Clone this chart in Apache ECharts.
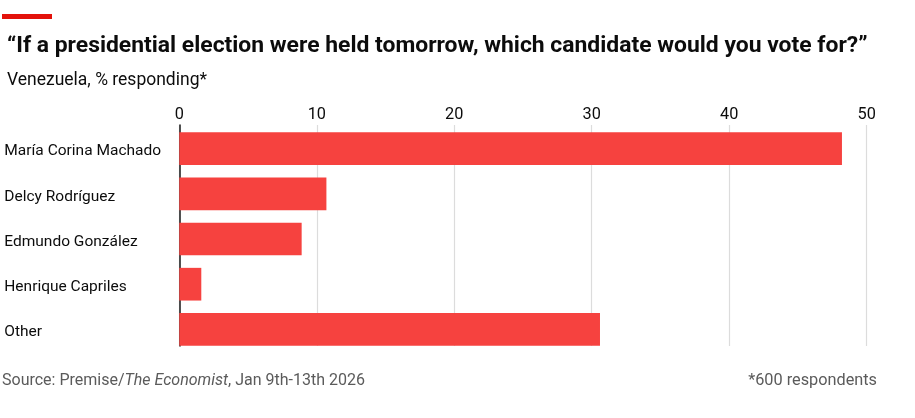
<!DOCTYPE html>
<html><head><meta charset="utf-8">
<script src="https://cdn.jsdelivr.net/npm/echarts@6/dist/echarts.min.js"></script>
<style>html,body{margin:0;padding:0;background:#fff}#c{width:915px;height:418px}</style>
</head><body><div id="c"></div>
<script>
const categories = ["María Corina Machado", "Delcy Rodríguez", "Edmundo González", "Henrique Capriles", "Other"];
const values = [48.2, 10.7, 8.9, 1.6, 30.6];
const xTicks = [0, 10, 20, 30, 40, 50];

const chart = echarts.init(document.getElementById('c'), null, {renderer: 'canvas'});
const FONT = 'Roboto';
chart.setOption({
  animation: false,
  backgroundColor: '#fff',
  title: [
    {text: '“If a presidential election were held tomorrow, which candidate would you vote for?”',
     left: 2, top: 30, textStyle: {fontFamily: FONT, fontWeight: 'bold', fontSize: 22.9, color: '#0c0c0c'}},
    {text: 'Venezuela, % responding*', left: 2, top: 67,
     textStyle: {fontFamily: FONT, fontWeight: 'normal', fontSize: 17.5, color: '#0c0c0c'}}
  ],
  graphic: [
    {type: 'rect', shape: {x: 2, y: 14, width: 50, height: 5}, style: {fill: '#E3120B'}},
    {type: 'text', left: 2, top: 373, style: {
      text: '{a|Source: Premise/}{b|The Economist}{a|, Jan 9th-13th 2026}',
      rich: {a: {fontFamily: FONT, fontSize: 16, fill: '#5b5b5b'},
             b: {fontFamily: FONT, fontSize: 16, fontStyle: 'italic', fill: '#5b5b5b'}}}},
    {type: 'text', right: 38, top: 373, style: {
      text: '*600 respondents', fontFamily: FONT, fontSize: 16.3, fill: '#5b5b5b'}}
  ],
  grid: [
    {left: 179.3, right: 48.3, top: 125, height: 221},
    {left: 179.3, right: 48.3, top: 126, height: 226}
  ],
  xAxis: [
    {gridIndex: 0, type: 'value', position: 'top', min: 0, max: 50, interval: 10,
     axisLine: {show: false}, axisTick: {show: false},
     splitLine: {show: true, lineStyle: {color: '#dcdcdc', width: 1.2}},
     axisLabel: {fontFamily: FONT, fontSize: 16.3, color: '#0c0c0c', margin: 2,
       formatter: v => xTicks.includes(v) ? String(v) : ''}},
    {gridIndex: 1, type: 'value', min: 0, max: 50, show: false}
  ],
  yAxis: [
    {gridIndex: 0, type: 'category', data: categories, inverse: true,
     axisLine: {show: true, lineStyle: {color: '#1a1a1a', width: 1.5}},
     axisTick: {show: false}, axisLabel: {show: false}},
    {gridIndex: 1, type: 'category', data: categories, inverse: true,
     axisLine: {show: false}, axisTick: {show: false},
     axisLabel: {align: 'left', margin: 175, formatter: v => '{a|' + v + '}',
       rich: {a: {fontFamily: FONT, fontSize: 15.5, color: '#0c0c0c', padding: [6, 0, 0, 0]}}}}
  ],
  series: [{
    type: 'bar', xAxisIndex: 1, yAxisIndex: 1, data: values,
    barWidth: 32.7, itemStyle: {color: '#F6423F'}, z: 3
  }]
});
</script></body></html>
